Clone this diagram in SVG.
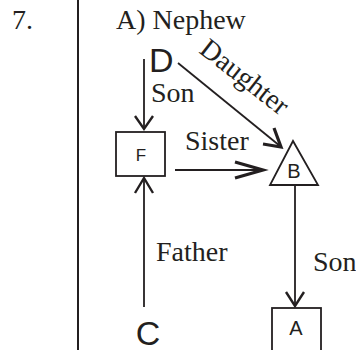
<svg xmlns="http://www.w3.org/2000/svg" width="356" height="350" viewBox="0 0 356 350">
<style>
.t{font-family:"Liberation Serif","Times New Roman",serif;font-size:28px;fill:#231f20}
.s{font-family:"Liberation Sans",Arial,sans-serif;fill:#231f20}
.ln{stroke:#231f20;stroke-width:1.8;fill:none}
.hd{stroke:#231f20;stroke-width:2.4;fill:none;stroke-linecap:butt;stroke-linejoin:miter}
.hb{stroke:#231f20;stroke-width:3.2;fill:none;stroke-linejoin:miter}
.nd{stroke:#231f20;stroke-width:1.8;fill:#fff}
</style>
<rect width="356" height="350" fill="#fff"/>
<line x1="78" y1="0" x2="78" y2="350" stroke="#231f20" stroke-width="2"/>
<text class="t" x="12" y="29">7.</text>
<text class="t" x="116" y="29">A) Nephew</text>
<g id="connectors">
  <line class="ln" x1="144" y1="59" x2="144" y2="129"/>
  <polyline class="hd" points="135,116 144,129 153,116"/>
  <line class="ln" x1="178" y1="63" x2="280" y2="146"/>
  <polyline class="hb" points="274,128 281,147 263,144"/>
  <line class="ln" x1="175" y1="170" x2="262" y2="170"/>
  <polyline class="hb" points="235,162 263,170 235,178"/>
  <line class="ln" x1="295" y1="185" x2="295" y2="306"/>
  <polyline class="hd" points="286,292 295,306 304,292"/>
  <line class="ln" x1="144" y1="307" x2="144" y2="178"/>
  <polyline class="hd" points="135,193 144,178 153,193"/>
  <text class="t" x="151" y="102">Son</text>
  <text class="t" x="0" y="0" transform="translate(198,52) rotate(38)">Daughter</text>
  <text class="t" x="185" y="150">Sister</text>
  <text class="t" x="156" y="261">Father</text>
  <text class="t" x="313" y="271">Son</text>
</g>
<g id="node-D"><text class="s" x="149" y="72" font-size="34">D</text></g>
<g id="node-F"><rect class="nd" x="116" y="132" width="49" height="44"/><text class="s" x="141" y="161" font-size="17" text-anchor="middle">F</text></g>
<g id="node-B"><polygon class="nd" points="293,141 270,185 318,185"/><text class="s" x="294" y="178" font-size="20" text-anchor="middle">B</text></g>
<g id="node-A"><rect class="nd" x="272" y="308" width="49" height="50"/><text class="s" x="296" y="335" font-size="20" text-anchor="middle">A</text></g>
<g id="node-C"><text class="s" x="148" y="345" font-size="34" text-anchor="middle">C</text></g>
</svg>
